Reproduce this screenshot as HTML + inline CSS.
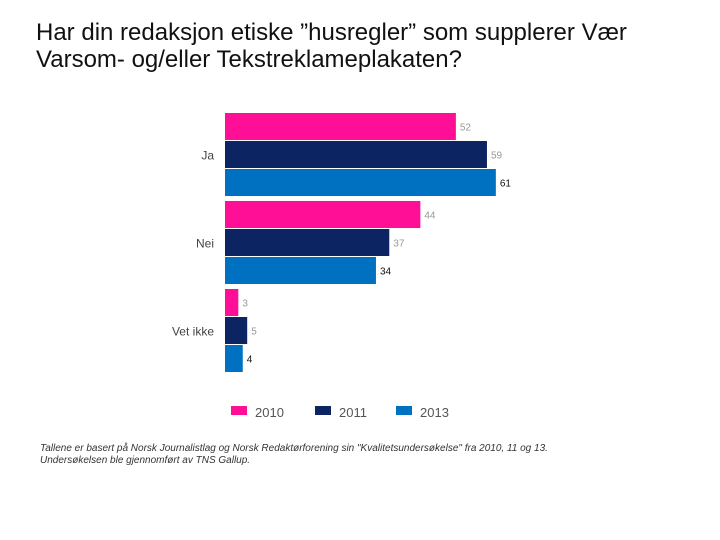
<!DOCTYPE html>
<html><head><meta charset="utf-8"><style>
body{margin:0;background:#fff;font-family:"Liberation Sans",sans-serif;}
#wrap{position:relative;width:720px;height:540px;overflow:hidden;}
.title{position:absolute;left:36px;top:19px;font-size:24px;line-height:27px;color:#111;white-space:nowrap;}
.foot{position:absolute;left:40px;top:443px;font-size:10px;font-style:italic;line-height:12px;color:#333;white-space:nowrap;}
</style></head><body>
<div id="wrap">
<div class="title">Har din redaksjon etiske ”husregler” som supplerer Vær<br>Varsom- og/eller Tekstreklameplakaten?</div>
<svg id="chart" width="720" height="540" style="position:absolute;left:0;top:0"></svg>
<div class="foot">Tallene er  basert på Norsk Journalistlag og Norsk Redaktørforening sin "Kvalitetsundersøkelse" fra 2010, 11 og 13.<br>Undersøkelsen ble gjennomført av TNS Gallup.</div>
</div>
<script>
const categories=["Ja","Nei","Vet ikke"];
const seriesNames=["2010","2011","2013"];
const v2010=[52,44,3];
const v2011=[59,37,5];
const v2013=[61,34,4];
const colors=["#ff0f96","#0c2461","#0070c0"];
const labelColors=["#999","#999","#111"];
const NS="http://www.w3.org/2000/svg";
const svg=document.getElementById('chart');
const x0=225, pxPer=4.44, groupTop=113, groupH=88, barH=27, barStep=28;
const xs=v=>x0+v*pxPer;
function mk(t,a){const e=document.createElementNS(NS,t);for(const k in a)e.setAttribute(k,a[k]);svg.appendChild(e);return e;}
const series=[v2010,v2011,v2013];
categories.forEach((c,i)=>{
  const gy=groupTop+i*groupH;
  const t=mk('text',{x:214,y:gy+barStep+barH/2+5,'text-anchor':'end','font-size':12,fill:'#444'});
  t.textContent=c;
  
  
  series.forEach((s,j)=>{
    const y=gy+j*barStep;
    const r=mk('rect',{x:x0,y:y,width:xs(s[i])-x0,height:barH,fill:colors[j]});
    
    
    const l=mk('text',{x:xs(s[i])+4,y:y+barH/2+4,'font-size':10,fill:labelColors[j]});
    l.textContent=s[i];
    
    
  });
});
const legX=[231,315,396];
seriesNames.forEach((n,j)=>{
  const r=mk('rect',{x:legX[j],y:406,width:16,height:9,fill:colors[j]});
  
  
  const t=mk('text',{x:legX[j]+24,y:417,'font-size':13,fill:'#555'});
  t.textContent=n;
  
  
});
</script>
</body></html>
